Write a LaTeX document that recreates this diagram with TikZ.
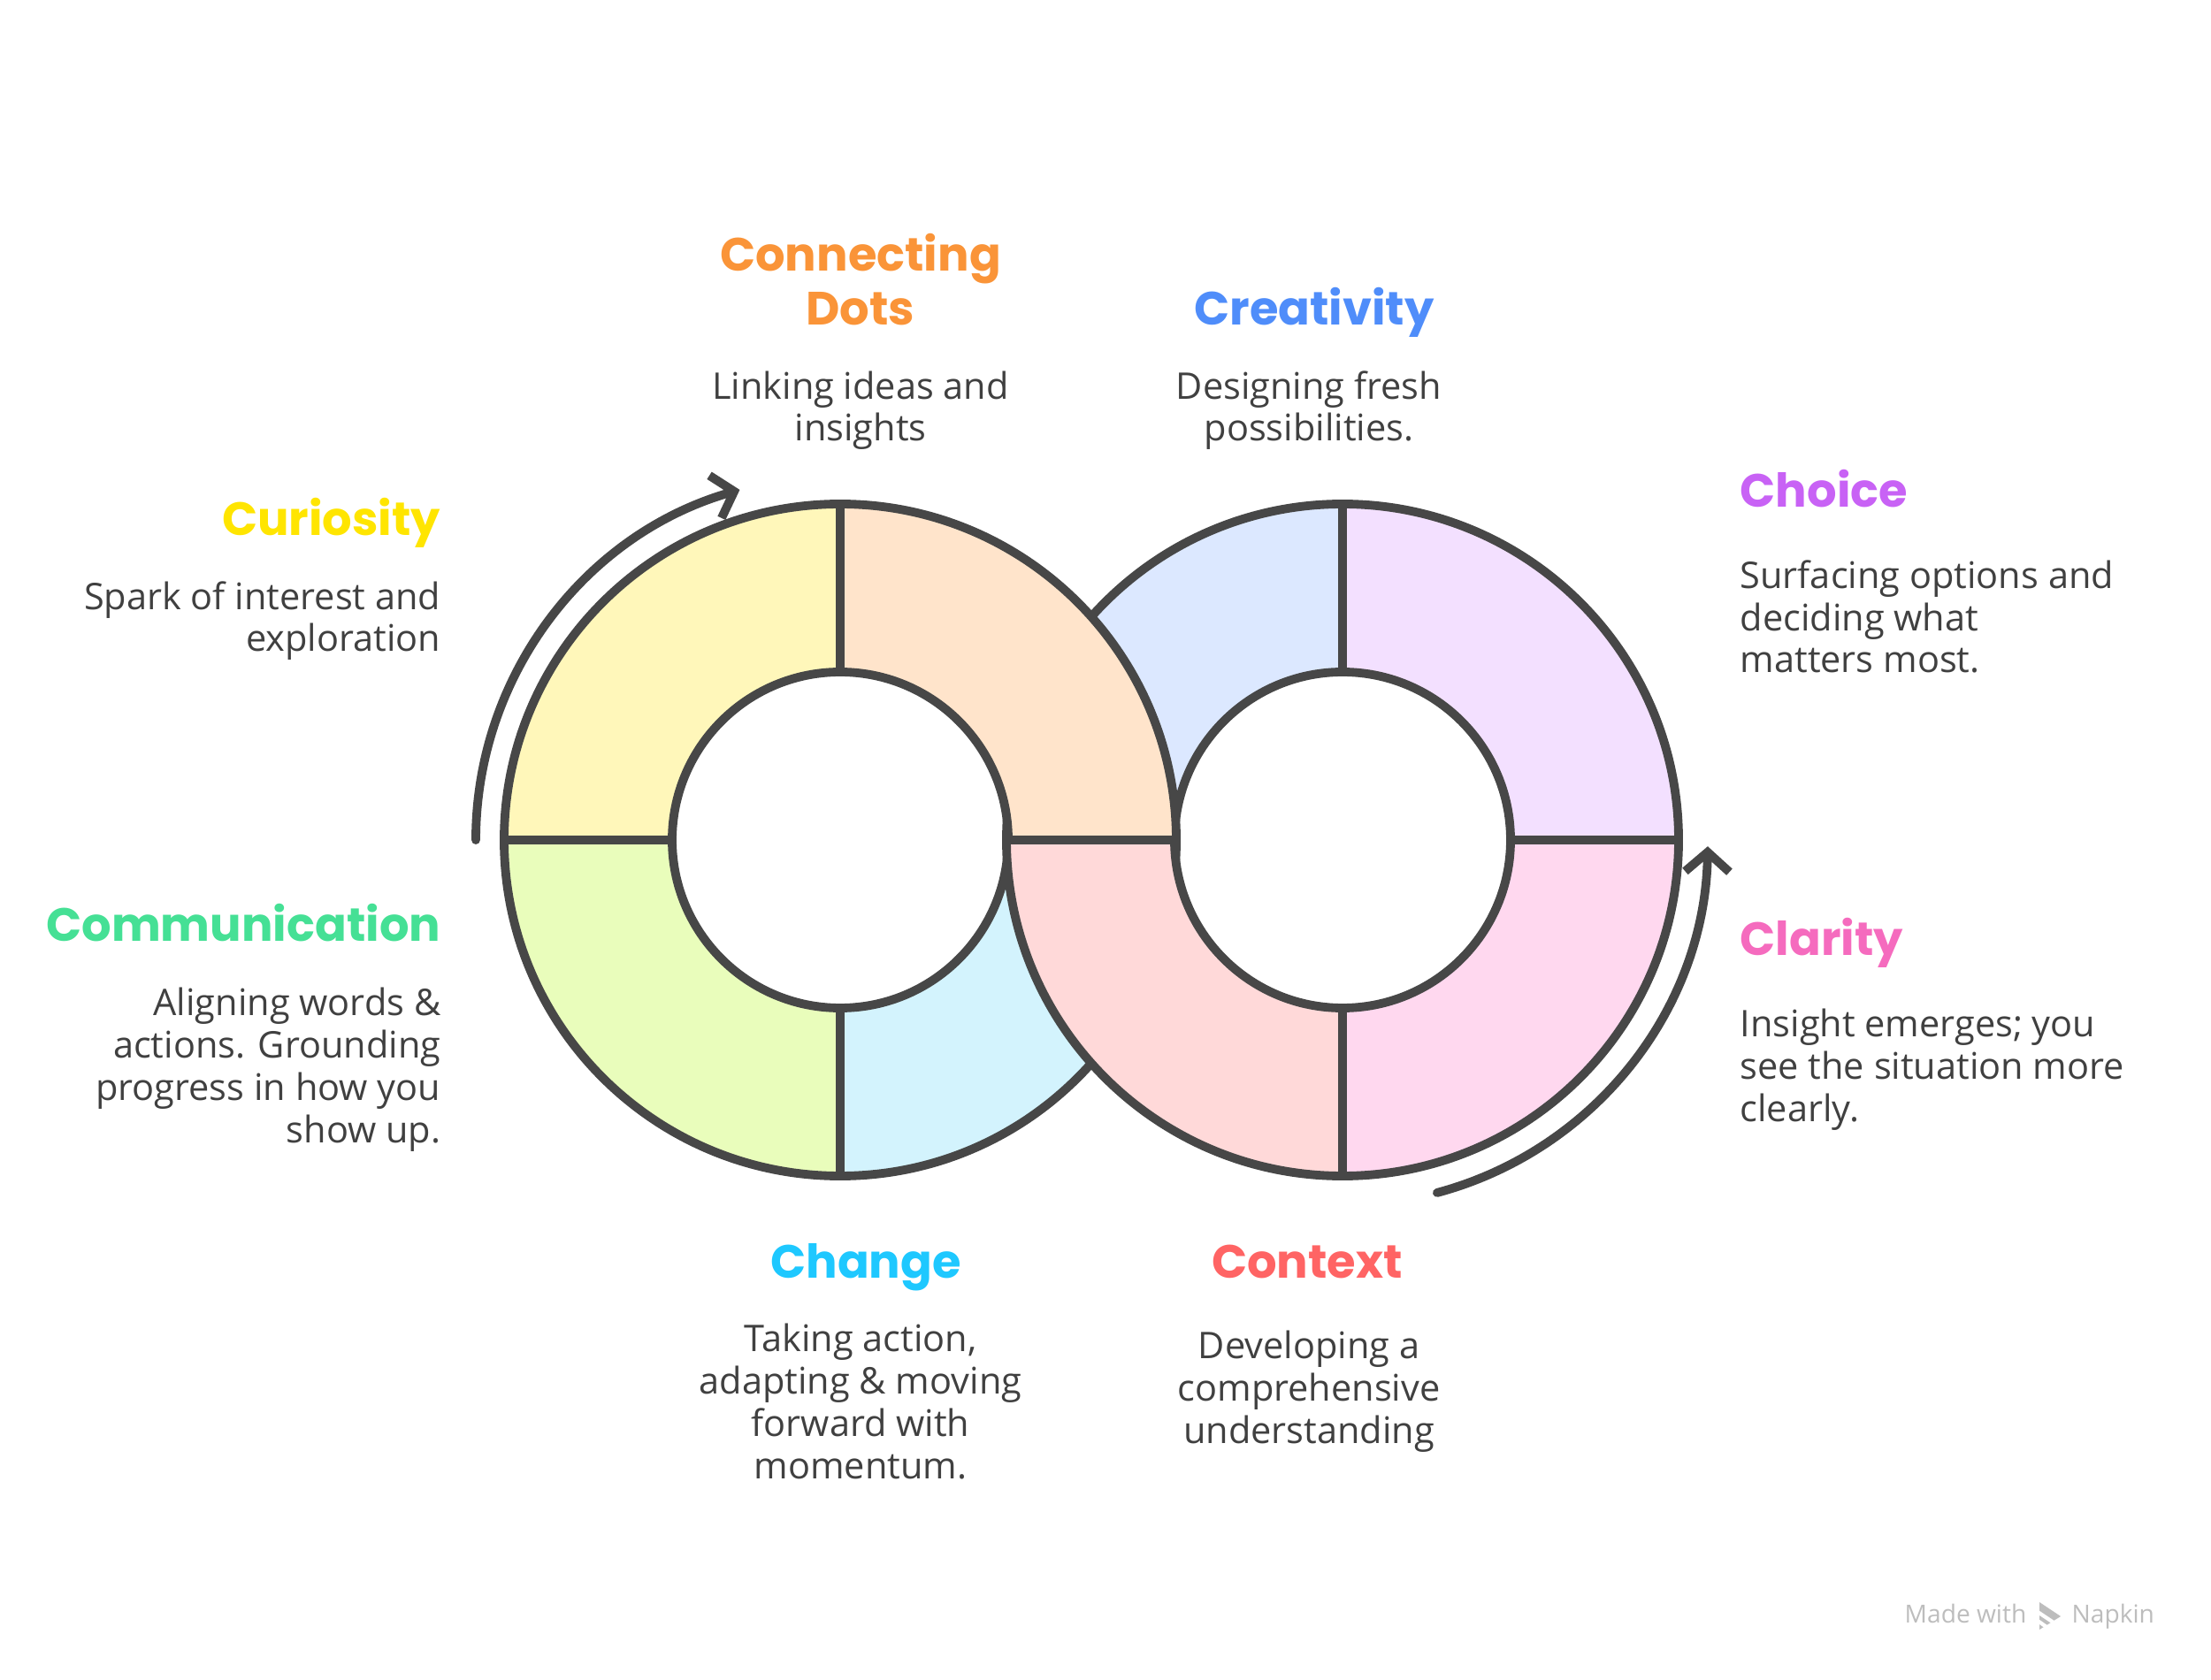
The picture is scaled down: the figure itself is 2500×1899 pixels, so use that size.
\documentclass[tikz,border=0pt]{standalone}
\usepackage{fontspec}
\setmainfont{Open Sans}
\newfontfamily\headfont{Poppins}
\usepackage{tikz}
\usetikzlibrary{positioning,arrows.meta,calc}
\definecolor{ink}{HTML}{474747}
\definecolor{txt}{HTML}{404040}
\definecolor{wmgray}{HTML}{BDBDBD}
\definecolor{curC}{HTML}{FFE500}
\definecolor{curF}{HTML}{FFF7BA}
\definecolor{conC}{HTML}{FA9438}
\definecolor{conF}{HTML}{FFE4CB}
\definecolor{creC}{HTML}{4F8DFA}
\definecolor{creF}{HTML}{DCE8FF}
\definecolor{choC}{HTML}{C862F5}
\definecolor{choF}{HTML}{F3E0FF}
\definecolor{claC}{HTML}{F56BBE}
\definecolor{claF}{HTML}{FFD8EF}
\definecolor{ctxC}{HTML}{FF6464}
\definecolor{ctxF}{HTML}{FFD9D9}
\definecolor{chaC}{HTML}{1EC8FF}
\definecolor{chaF}{HTML}{D3F3FD}
\definecolor{comC}{HTML}{45E095}
\definecolor{comF}{HTML}{E9FDBB}
\newcommand{\outR}{380}
\newcommand{\inR}{190}
\newcommand{\ringseg}[4]{%
  \filldraw[seg, fill=#4] ($(#1)+(#2:\outR)$) arc[start angle=#2, end angle=#3, radius=\outR]
    -- ($(#1)+(#3:\inR)$) arc[start angle=#3, end angle=#2, radius=\inR] -- cycle;}
\tikzset{
  seg/.style={draw=ink, line width=2.8pt, line join=round},
  title/.style={font=\headfont\bfseries\fontsize{15}{17.6}\selectfont, text=#1, inner sep=0pt},
  desc/.style={font=\fontsize{11.8}{13.6}\selectfont, text=txt, inner sep=0pt},
  loopflow/.style={-{Straight Barb[length=2.2mm, width=5mm]}, line width=2.8pt, draw=ink,
                   line cap=round, line join=round},
  wmark/.style={font=\fontsize{8}{9}\selectfont, text=wmgray, inner sep=0pt},
}
\begin{document}
\begin{tikzpicture}[x=0.01cm, y=0.01cm]
  \useasboundingbox (0,0) rectangle (2500,1899);
  \fill[white] (0,0) rectangle (2500,1899);
  \coordinate (L) at (950,949);
  \coordinate (R) at (1518,949);
  \ringseg{R}{90}{180}{creF}
  \ringseg{R}{0}{90}{choF}
  \ringseg{L}{270}{360}{chaF}
  \ringseg{L}{90}{180}{curF}
  \ringseg{L}{180}{270}{comF}
  \ringseg{L}{0}{90}{conF}
  \ringseg{R}{180}{270}{ctxF}
  \ringseg{R}{270}{360}{claF}
  \coordinate (arrL) at ($(L)+(180:412)$);
  \coordinate (arrR) at ($(R)+(-75:413)$);
  \draw[loopflow] (arrL) arc[start angle=180, end angle=106, radius=412];
  \draw[loopflow] (arrR) arc[start angle=-75, end angle=-1, radius=413];

  \node[title=conC, align=center, anchor=base] (con) at (973,1531) {Connecting\\Dots};
  \node[desc, align=center, anchor=base] (conD) at (973,1400) {Linking ideas and\\insights};
  \node[title=creC, anchor=base] (cre) at (1486,1531) {Creativity};
  \node[desc, align=center, anchor=base] (creD) at (1480,1400) {Designing fresh\\possibilities.};
  \node[title=curC, anchor=base east] (cur) at (499,1293) {Curiosity};
  \node[desc, align=right, anchor=base east] (curD) at (499,1162) {Spark of interest and\\exploration};
  \node[title=choC, anchor=base west] (cho) at (1967,1325) {Choice};
  \node[desc, align=left, anchor=base west] (choD) at (1967,1138) {Surfacing options and\\deciding what\\matters most.};
  \node[title=comC, anchor=base east] (com) at (499,834) {Communication};
  \node[desc, align=right, anchor=base east] (comD) at (499,607) {Aligning words \&\\actions. Grounding\\progress in how you\\show up.};
  \node[title=claC, anchor=base west] (cla) at (1967,818) {Clarity};
  \node[desc, align=left, anchor=base west] (claD) at (1967,631) {Insight emerges; you\\see the situation more\\clearly.};
  \node[title=chaC, anchor=base] (cha) at (979,454) {Change};
  \node[desc, align=center, anchor=base] (chaD) at (973,227) {Taking action,\\adapting \& moving\\forward with\\momentum.};
  \node[title=ctxC, anchor=base] (ctx) at (1478,454) {Context};
  \node[desc, align=center, anchor=base] (ctxD) at (1480,267) {Developing a\\comprehensive\\understanding};

  \node[wmark, anchor=base west] (made) at (2153,64) {Made with};
  \fill[wmgray] (2306,87) -- (2330,71) -- (2306,56) -- cycle;
  \draw[white, line width=1.2pt] (2304,76) -- (2322,64) (2304,66) -- (2314,59);
  \node[wmark, anchor=base west] (napkin) at (2342,64) {Napkin};
\end{tikzpicture}
\end{document}
